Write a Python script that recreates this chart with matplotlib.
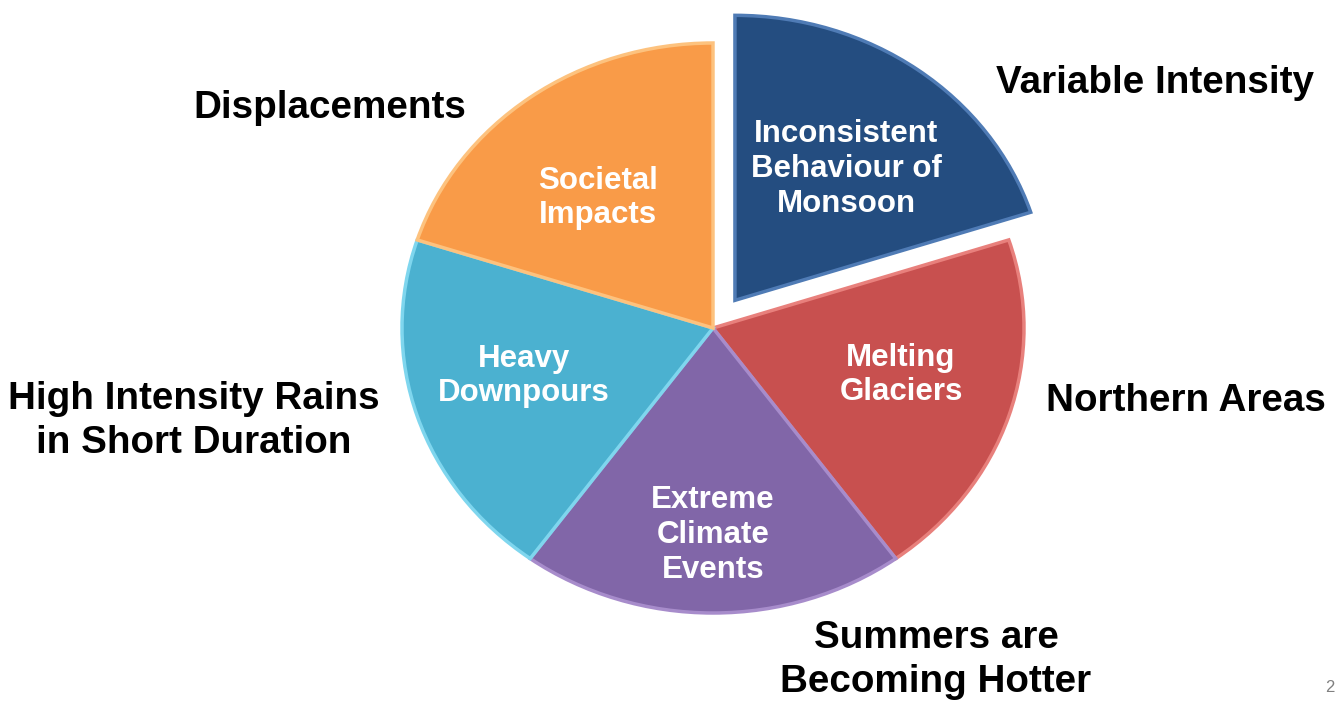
import matplotlib.pyplot as plt

# five equal slices of the same issue
slice_labels = ['Inconsistent\nBehaviour of\nMonsoon', 'Melting\nGlaciers',
                'Extreme\nClimate\nEvents', 'Heavy\nDownpours', 'Societal\nImpacts']
slice_values = [1, 1, 1, 1, 1]
slice_colors = ['#244D80', '#C8504F', '#8166A8', '#4BB1D0', '#F99B48']
edge_colors = ['#4F7BB5', '#E8807C', '#A78CCB', '#7FD6EE', '#FDC27E']
explode = [0.12, 0, 0, 0, 0]

outer_labels = ['Variable Intensity', 'Northern Areas', 'Summers are\nBecoming Hotter',
                'High Intensity Rains\nin Short Duration', 'Displacements']

W, H = 1335, 709
cx, cy = 713, 381          # pie centre in pixels from bottom-left
rx, ry = 311, 285          # squashed radii in pixels

fig = plt.figure(figsize=(W / 100, H / 100), dpi=100)
ax = fig.add_axes([0, 0, 1, 1])

wedges, _ = ax.pie(slice_values, colors=slice_colors, explode=explode,
                   startangle=90, counterclock=False,
                   wedgeprops=dict(linewidth=2.5))
for w, ec in zip(wedges, edge_colors):
    w.set_edgecolor(ec)

ax.set_aspect('auto')
ax.set_xlim(-cx / rx, (W - cx) / rx)
ax.set_ylim(-cy / ry, (H - cy) / ry)
ax.axis('off')

font = 'Liberation Sans'

def px(x, y):
    return x / W, 1 - y / H

# labels inside the slices
inner_pos = [(846, 169), (901, 375), (713, 535), (524, 376), (598, 198)]
for lab, (x, y) in zip(slice_labels, inner_pos):
    fig.text(*px(x, y), lab, ha='center', va='center', color='white',
             fontsize=22.5, fontweight='bold', family=font, linespacing=1.2)

# labels around the pie
outer_pos = [(1155, 83), (1186, 401), (936, 660), (194, 421), (330, 108)]
for lab, (x, y) in zip(outer_labels, outer_pos):
    fig.text(*px(x, y), lab, ha='center', va='center', color='black',
             fontsize=27.8, fontweight='bold', family=font, linespacing=1.3)

fig.text(*px(1325, 688), '2', ha='left', va='center', color='#808080',
         fontsize=12, family=font)

fig.savefig('out.png', dpi=100)
